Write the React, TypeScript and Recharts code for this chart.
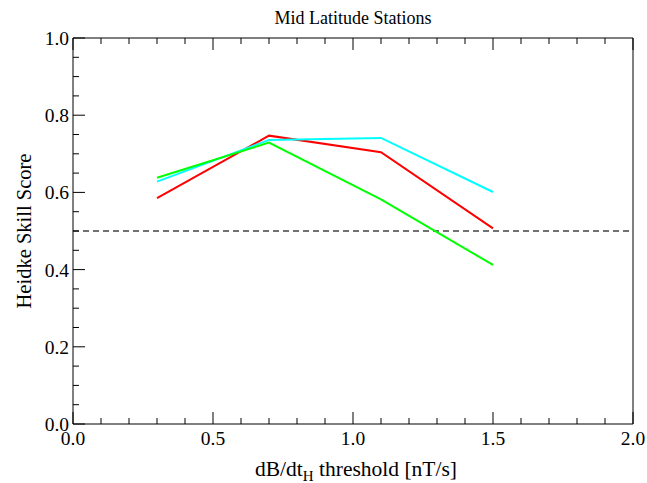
import { LineChart, Line, XAxis, YAxis, ReferenceLine } from "recharts";

const thresholds = [0.3, 0.7, 1.1, 1.5];
const redScores = [0.585, 0.747, 0.704, 0.507];
const cyanScores = [0.628, 0.736, 0.741, 0.601];
const greenScores = [0.638, 0.729, 0.582, 0.412];

const xTicks = [0, 0.1, 0.2, 0.3, 0.4, 0.5, 0.6, 0.7, 0.8, 0.9, 1.0, 1.1, 1.2, 1.3, 1.4, 1.5, 1.6, 1.7, 1.8, 1.9, 2.0];
const yTicks = [0, 0.05, 0.1, 0.15, 0.2, 0.25, 0.3, 0.35, 0.4, 0.45, 0.5, 0.55, 0.6, 0.65, 0.7, 0.75, 0.8, 0.85, 0.9, 0.95, 1.0];

const data = thresholds.map((t, i) => ({
  t,
  red: redScores[i],
  cyan: cyanScores[i],
  green: greenScores[i],
}));

const FONT = "Liberation Serif";

const isMultiple = (v: number, step: number) =>
  Math.abs(v / step - Math.round(v / step)) < 1e-6;

// ticks point into the plot; majors get a label on bottom/left only
function XTick(props: any) {
  const { x, y, payload, side } = props;
  const major = isMultiple(payload.value, 0.5);
  const len = major ? 12 : 6;
  const dir = side === "top" ? 1 : -1;
  return (
    <g>
      <line x1={x} y1={y} x2={x} y2={y + dir * len} stroke="#000" strokeWidth={1} />
      {major && side === "bottom" && (
        <text x={x} y={y + 21} textAnchor="middle" fontSize={19.5} fontFamily={FONT} fill="#000">
          {payload.value.toFixed(1)}
        </text>
      )}
    </g>
  );
}

function YTick(props: any) {
  const { x, y, payload, side } = props;
  const major = isMultiple(payload.value, 0.2);
  const len = major ? 12 : 6;
  const dir = side === "left" ? 1 : -1;
  return (
    <g>
      <line x1={x} y1={y} x2={x + dir * len} y2={y} stroke="#000" strokeWidth={1} />
      {major && side === "left" && (
        <text x={x - 4} y={y + 7} textAnchor="end" fontSize={19.5} fontFamily={FONT} fill="#000">
          {payload.value.toFixed(1)}
        </text>
      )}
    </g>
  );
}

function XLabel(props: any) {
  const { viewBox } = props;
  const cx = viewBox.x + viewBox.width / 2 + 3;
  return (
    <text x={cx} y={viewBox.y + 52} textAnchor="middle" fontSize={21.5} fontFamily={FONT} fill="#000">
      dB/dt
      <tspan fontSize={15} dy={5}>H</tspan>
      <tspan dy={-5}> threshold [nT/s]</tspan>
    </text>
  );
}

function YLabel(props: any) {
  const { viewBox } = props;
  const cy = viewBox.y + viewBox.height / 2;
  return (
    <text
      x={31}
      y={cy}
      transform={`rotate(-90, 31, ${cy})`}
      textAnchor="middle"
      fontSize={20.5}
      fontFamily={FONT}
      fill="#000"
    >
      Heidke Skill Score
    </text>
  );
}

function Title(props: any) {
  const { viewBox } = props;
  const cx = viewBox.x + viewBox.width / 2;
  return (
    <text x={cx} y={24} textAnchor="middle" fontSize={18} fontFamily={FONT} fill="#000">
      Mid Latitude Stations
    </text>
  );
}

export default function App() {
  return (
    <div style={{ position: "absolute", left: 0, top: 0, background: "#fff" }}>
      <LineChart
        width={647}
        height={483}
        data={data}
        margin={{ top: 37, right: 13, left: 0, bottom: 0 }}
      >
        <XAxis
          xAxisId="b"
          dataKey="t"
          type="number"
          domain={[0, 2]}
          ticks={xTicks}
          interval={0}
          height={59}
          tickSize={0}
          tickMargin={0}
          tickLine={false}
          axisLine={{ stroke: "#000" }}
          tick={<XTick side="bottom" />}
          label={<XLabel />}
        />
        <XAxis
          xAxisId="t"
          orientation="top"
          dataKey="t"
          type="number"
          domain={[0, 2]}
          ticks={xTicks}
          interval={0}
          height={1}
          tickSize={0}
          tickMargin={0}
          tickLine={false}
          axisLine={{ stroke: "#000" }}
          tick={<XTick side="top" />}
          label={<Title />}
        />
        <YAxis
          yAxisId="l"
          type="number"
          domain={[0, 1]}
          ticks={yTicks}
          interval={0}
          width={73}
          tickSize={0}
          tickMargin={0}
          tickLine={false}
          axisLine={{ stroke: "#000" }}
          tick={<YTick side="left" />}
          label={<YLabel />}
        />
        <YAxis
          yAxisId="r"
          orientation="right"
          type="number"
          domain={[0, 1]}
          ticks={yTicks}
          interval={0}
          width={1}
          tickSize={0}
          tickMargin={0}
          tickLine={false}
          axisLine={{ stroke: "#000" }}
          tick={<YTick side="right" />}
        />
        <ReferenceLine
          xAxisId="b"
          yAxisId="l"
          y={0.5}
          stroke="#444"
          strokeWidth={1.5}
          strokeDasharray="6 4"
        />
        <Line xAxisId="b" yAxisId="l" dataKey="red" stroke="#ff0000" strokeWidth={2} dot={false} isAnimationActive={false} />
        <Line xAxisId="b" yAxisId="l" dataKey="cyan" stroke="#00ffff" strokeWidth={2} dot={false} isAnimationActive={false} />
        <Line xAxisId="b" yAxisId="l" dataKey="green" stroke="#00ff00" strokeWidth={2} dot={false} isAnimationActive={false} />
      </LineChart>
    </div>
  );
}
